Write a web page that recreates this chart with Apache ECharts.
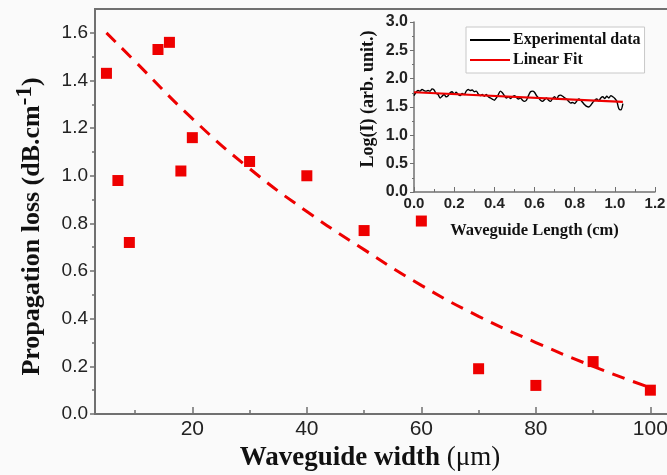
<!DOCTYPE html>
<html>
<head>
<meta charset="utf-8">
<script src="https://cdn.jsdelivr.net/npm/echarts@6/dist/echarts.min.js"></script>
<style>html,body{margin:0;padding:0;background:#fafafa;}#c{width:667px;height:475px;}</style>
</head>
<body>
<div id="c"></div>
<script>
// Main chart data
const widths = [5, 7, 9, 14, 16, 18, 20, 30, 40, 50, 60, 70, 80, 90, 100];
const losses = [1.43, 0.98, 0.72, 1.53, 1.56, 1.02, 1.16, 1.06, 1.00, 0.77, 0.81, 0.19, 0.12, 0.22, 0.10];
const fitWidths = [5, 10, 20, 30, 40, 50, 60, 70, 80, 90, 100];
const fitLosses = [1.60, 1.48, 1.24, 1.03, 0.85, 0.69, 0.54, 0.41, 0.30, 0.20, 0.11];
const xTickLabels = [20, 40, 60, 80, 100];
const xMajorTicks = [20, 40, 60, 80, 100];
const xMinorTicks = [10, 30, 50, 70, 90];
const yTickLabels = [0, 0.2, 0.4, 0.6, 0.8, 1.0, 1.2, 1.4, 1.6];
const yMinorTicks = [0.1, 0.3, 0.5, 0.7, 0.9, 1.1, 1.3, 1.5];

// Inset data
const insetLen = [0.00,0.01,0.02,0.03,0.04,0.05,0.06,0.07,0.08,0.09,0.10,0.11,0.12,0.13,0.14,0.15,0.16,0.17,0.18,0.19,0.20,0.21,0.22,0.23,0.24,0.25,0.26,0.27,0.28,0.29,0.30,0.31,0.32,0.33,0.34,0.35,0.36,0.37,0.38,0.39,0.40,0.41,0.42,0.43,0.44,0.45,0.46,0.47,0.48,0.49,0.50,0.51,0.52,0.53,0.54,0.55,0.56,0.57,0.58,0.59,0.60,0.61,0.62,0.63,0.64,0.65,0.66,0.67,0.68,0.69,0.70,0.71,0.72,0.73,0.74,0.75,0.76,0.77,0.78,0.79,0.80,0.81,0.82,0.83,0.84,0.85,0.86,0.87,0.88,0.89,0.90,0.91,0.92,0.93,0.94,0.95,0.96,0.97,0.98,0.99,1.00,1.01,1.02,1.03,1.04];
const insetLogI = [1.70,1.76,1.79,1.78,1.81,1.79,1.78,1.79,1.78,1.82,1.80,1.74,1.72,1.66,1.69,1.72,1.68,1.70,1.75,1.77,1.73,1.76,1.72,1.70,1.74,1.72,1.78,1.81,1.79,1.80,1.77,1.78,1.73,1.70,1.72,1.69,1.72,1.68,1.66,1.64,1.62,1.66,1.72,1.78,1.75,1.70,1.66,1.68,1.65,1.68,1.70,1.67,1.64,1.66,1.62,1.60,1.62,1.70,1.77,1.78,1.76,1.70,1.66,1.62,1.60,1.63,1.66,1.62,1.60,1.65,1.68,1.64,1.70,1.71,1.69,1.66,1.64,1.60,1.57,1.58,1.56,1.60,1.64,1.62,1.58,1.54,1.51,1.50,1.53,1.58,1.62,1.64,1.61,1.66,1.68,1.65,1.69,1.66,1.70,1.68,1.65,1.60,1.47,1.45,1.56];
const insetFitLen = [0.0, 1.04];
const insetFitLogI = [1.76, 1.59];

const axisGray = '#707070';
const red = '#ee0000';
const sans = 'Liberation Sans';
const serif = 'Liberation Serif';

const chart = echarts.init(document.getElementById('c'), null, {renderer: 'canvas'});
chart.setOption({
  backgroundColor: '#fafafa',
  animation: false,
  legend: {
    data: ['Experimental data', 'Linear Fit'],
    orient: 'vertical',
    left: 466, top: 27,
    padding: [5, 4, 5, 4],
    itemGap: 4,
    icon: 'rect',
    itemWidth: 40, itemHeight: 2,
    backgroundColor: '#ffffff',
    borderColor: '#c8c8c8', borderWidth: 1,
    textStyle: {fontFamily: serif, fontWeight: 'bold', fontSize: 16, color: '#111', padding: [0, 0, 0, -2]}
  },
  grid: [
    {left: 95, top: 9, right: -12, bottom: 61, show: true, borderColor: axisGray, borderWidth: 2,
     backgroundColor: 'transparent', outerBoundsMode: 'none', containLabel: false},
    {left: 414, top: 22, right: 12, bottom: 283, show: false, outerBoundsMode: 'none', containLabel: false}
  ],
  xAxis: [
    {
      type: 'value', gridIndex: 0, min: 3, max: 105,
      name: '{b|Waveguide width }{r|(μm)}', nameLocation: 'middle', nameGap: 27,
      nameTextStyle: {padding: [0, 34, 0, 0], rich: {
        b: {fontFamily: serif, fontWeight: 'bold', fontSize: 27, color: '#111'},
        r: {fontFamily: serif, fontWeight: 'normal', fontSize: 27, color: '#111'}
      }},
      axisLine: {show: true, onZero: false, lineStyle: {color: axisGray, width: 2}},
      axisTick: {show: true, inside: true, length: 7, customValues: xMajorTicks, lineStyle: {color: axisGray, width: 1.5}},
      minorTick: {show: false},
      axisLabel: {customValues: xTickLabels, fontFamily: sans, fontSize: 21, color: '#222', margin: 5},
      splitLine: {show: false}
    },
    {
      type: 'value', gridIndex: 0, min: 3, max: 105, position: 'bottom',
      axisLine: {show: false},
      axisTick: {show: true, inside: true, length: 4, customValues: xMinorTicks, lineStyle: {color: axisGray, width: 1.5}},
      axisLabel: {show: false},
      splitLine: {show: false}
    },
    {
      type: 'value', gridIndex: 1, min: 0, max: 1.2, interval: 0.2,
      name: 'Waveguide Length (cm)', nameLocation: 'middle', nameGap: 30,
      nameTextStyle: {fontFamily: serif, fontWeight: 'bold', fontSize: 16.5, color: '#111'},
      axisLine: {show: true, onZero: false, lineStyle: {color: axisGray, width: 1.5}},
      axisTick: {show: true, inside: true, length: 5, lineStyle: {color: axisGray}},
      minorTick: {show: true, splitNumber: 2, length: 3, lineStyle: {color: axisGray}},
      axisLabel: {fontFamily: sans, fontWeight: 'bold', fontSize: 15, color: '#222', margin: 4,
        formatter: v => v.toFixed(1)},
      splitLine: {show: false}
    }
  ],
  yAxis: [
    {
      type: 'value', gridIndex: 0, min: 0, max: 1.7,
      name: '{b|Propagation loss (dB.cm}{s|-1}{b|)}', nameLocation: 'middle', nameGap: 44,
      nameTextStyle: {padding: [0, 30, 0, 0], rich: {
        b: {fontFamily: serif, fontWeight: 'bold', fontSize: 26, color: '#111'},
        s: {fontFamily: serif, fontWeight: 'bold', fontSize: 23, color: '#111', verticalAlign: 'top', padding: [0, 0, 14, 0]}
      }},
      axisLine: {show: true, onZero: false, lineStyle: {color: axisGray, width: 2}},
      axisTick: {show: true, inside: false, length: 5, customValues: yTickLabels, lineStyle: {color: axisGray, width: 1.5}},
      axisLabel: {customValues: yTickLabels, fontFamily: sans, fontSize: 19, color: '#222', margin: 7,
        formatter: v => v.toFixed(1)},
      splitLine: {show: false}
    },
    {
      type: 'value', gridIndex: 0, min: 0, max: 1.7, position: 'left',
      axisLine: {show: false},
      axisTick: {show: true, inside: false, length: 3, customValues: yMinorTicks, lineStyle: {color: axisGray, width: 1.5}},
      axisLabel: {show: false},
      splitLine: {show: false}
    },
    {
      type: 'value', gridIndex: 1, min: 0, max: 3.0, interval: 0.5,
      name: 'Log(I) (arb. unit.)', nameLocation: 'middle', nameGap: 37,
      nameTextStyle: {fontFamily: serif, fontWeight: 'bold', fontSize: 18, color: '#111', padding: [0, 0, 0, 16]},
      axisLine: {show: true, onZero: false, lineStyle: {color: axisGray, width: 1.5}},
      axisTick: {show: true, inside: false, length: 4, lineStyle: {color: axisGray}},
      minorTick: {show: true, splitNumber: 2, length: 2, lineStyle: {color: axisGray}},
      axisLabel: {fontFamily: sans, fontWeight: 'bold', fontSize: 16, color: '#222', margin: 6,
        formatter: v => v.toFixed(1)},
      splitLine: {show: false}
    }
  ],
  series: [
    {
      name: 'Fit', type: 'line', xAxisIndex: 0, yAxisIndex: 0,
      data: fitWidths.map((x, i) => [x, fitLosses[i]]),
      smooth: true, symbol: 'none',
      lineStyle: {color: red, width: 3, type: [13, 9]}, z: 2
    },
    {
      name: 'Loss', type: 'scatter', xAxisIndex: 0, yAxisIndex: 0,
      data: widths.map((x, i) => [x, losses[i]]),
      symbol: 'rect', symbolSize: 11,
      itemStyle: {color: red, opacity: 1}, z: 3
    },
    {
      name: 'Experimental data', type: 'line', xAxisIndex: 2, yAxisIndex: 2,
      data: insetLen.map((x, i) => [x, insetLogI[i]]),
      smooth: 0.3, symbol: 'none', showSymbol: false,
      lineStyle: {color: '#000', width: 1.4}, itemStyle: {color: '#000'}, z: 4
    },
    {
      name: 'Linear Fit', type: 'line', xAxisIndex: 2, yAxisIndex: 2,
      data: insetFitLen.map((x, i) => [x, insetFitLogI[i]]),
      symbol: 'none', showSymbol: false,
      lineStyle: {color: red, width: 2.2}, itemStyle: {color: red}, z: 5
    }
  ]
});
</script>
</body>
</html>
